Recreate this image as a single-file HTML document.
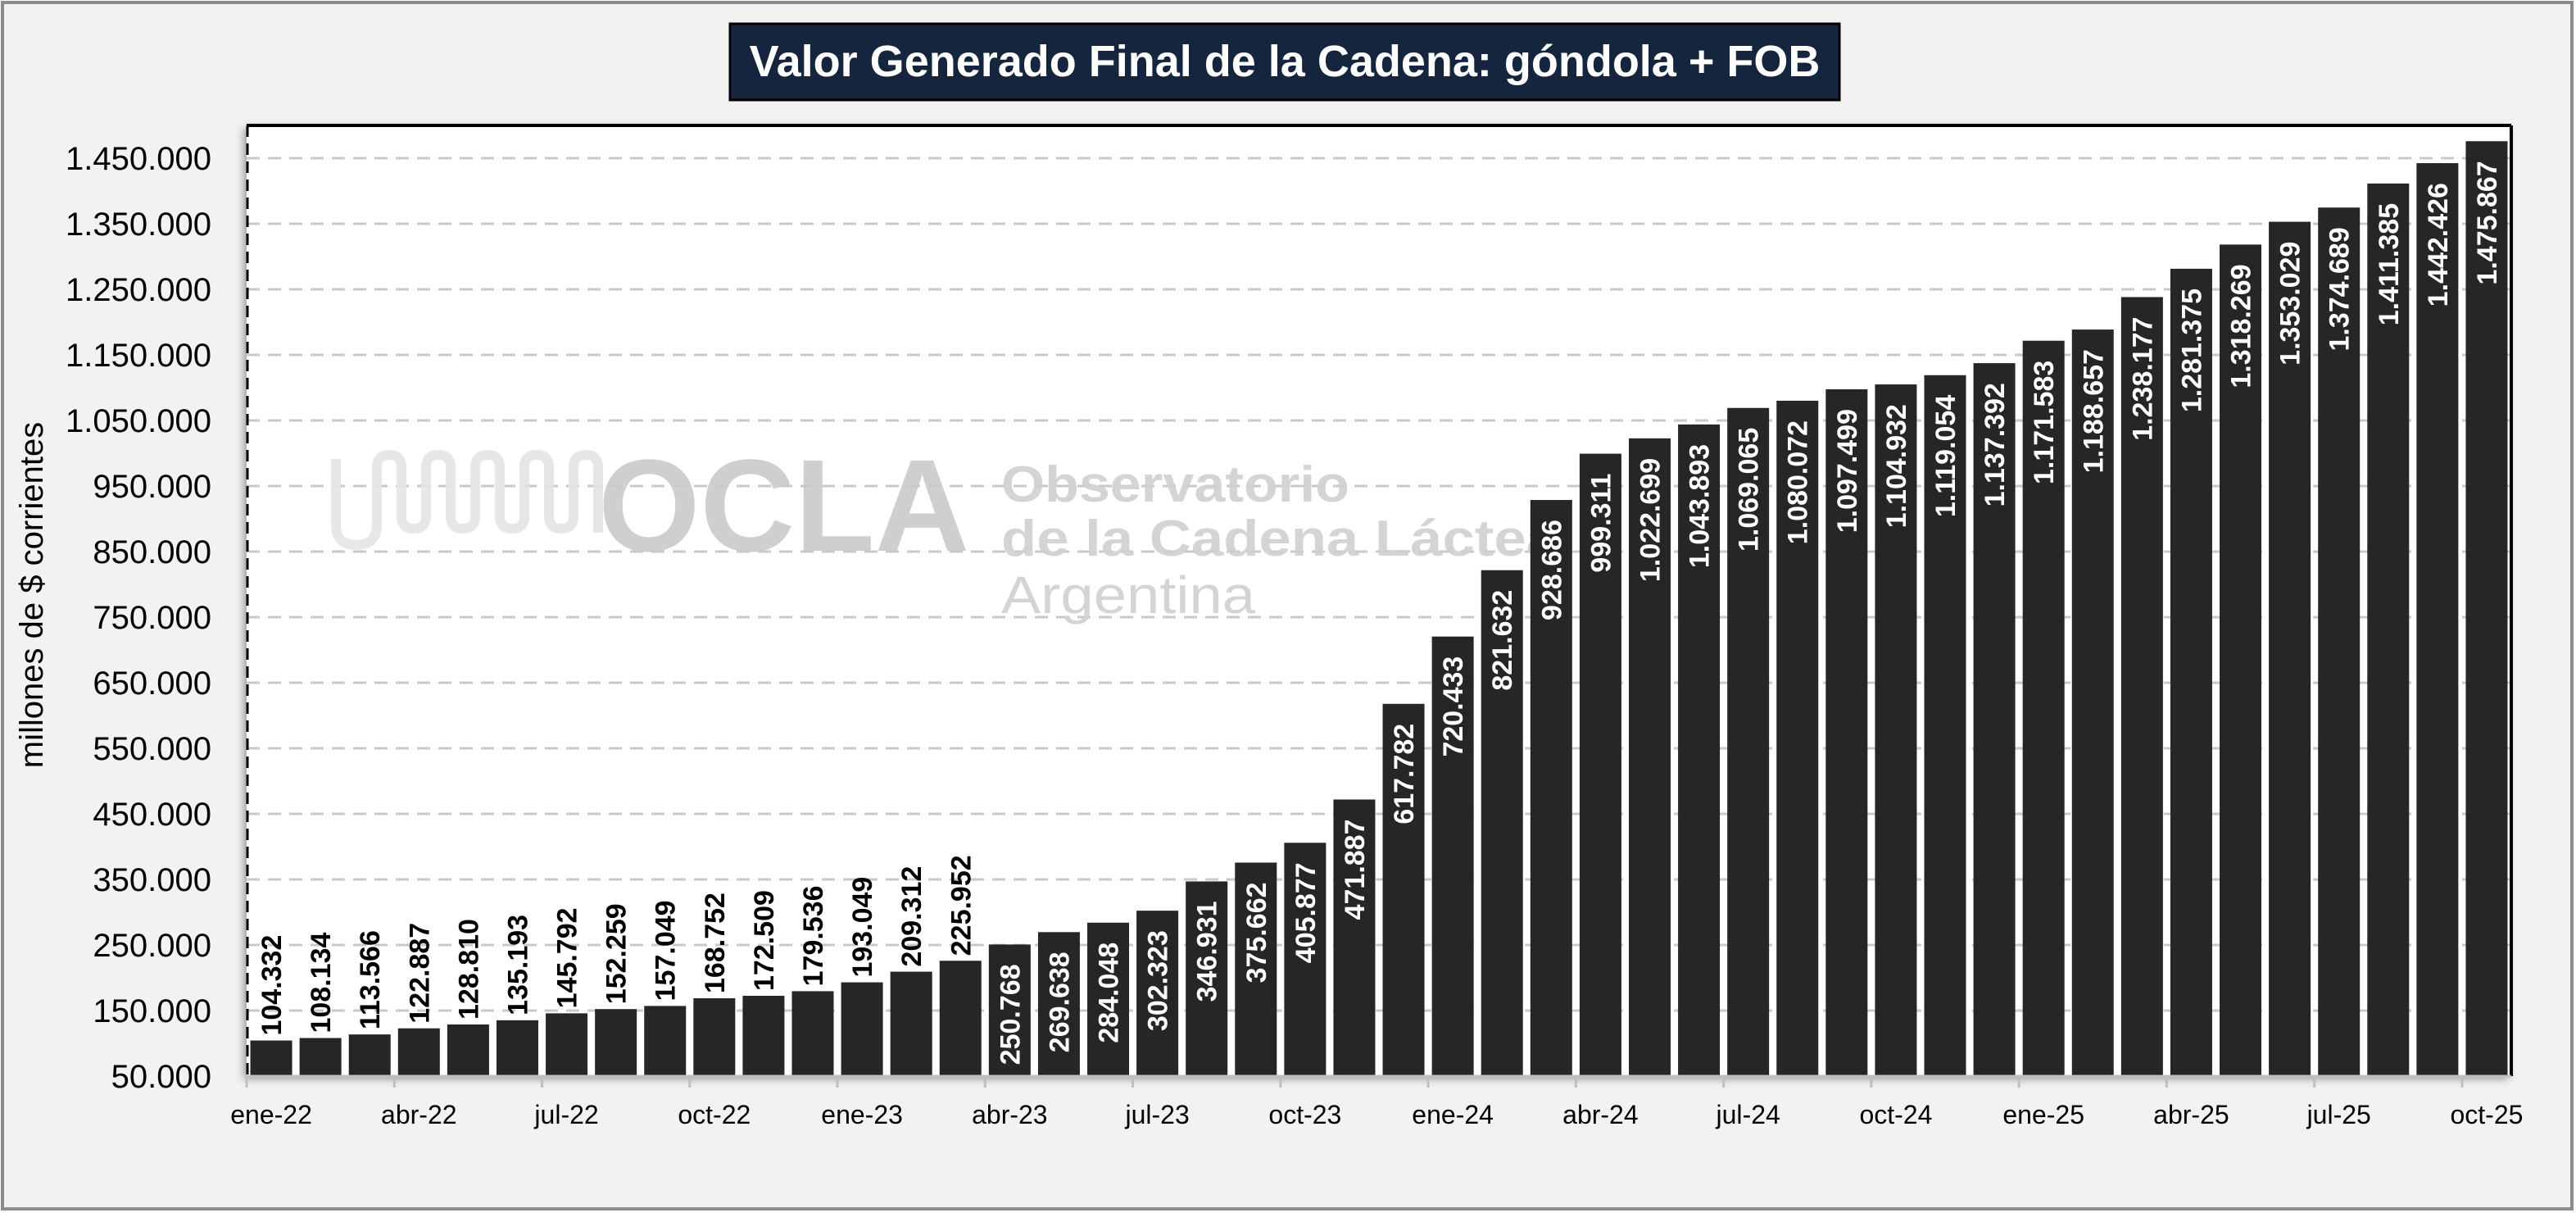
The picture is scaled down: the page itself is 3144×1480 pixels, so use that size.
<!DOCTYPE html>
<html><head><meta charset="utf-8"><style>
html,body{margin:0;padding:0;background:#fff}
svg{display:block;font-family:"Liberation Sans",sans-serif}
</style></head><body>
<svg id="chart" width="3144" height="1480" viewBox="0 0 3144 1480" xmlns="http://www.w3.org/2000/svg">
<defs><filter id="sh" x="-5%" y="-5%" width="110%" height="110%"><feDropShadow dx="-4" dy="4" stdDeviation="5" flood-color="#000" flood-opacity="0.35"/></filter></defs>
<rect x="3" y="3" width="3136" height="1472" fill="#f2f2f2" stroke="#8c8c8c" stroke-width="4"/>
<g>
<rect x="891" y="29" width="1354" height="93" fill="#14253d" stroke="#000" stroke-width="3"/>
<text x="1568" y="93" text-anchor="middle" fill="#fff" font-size="54" font-weight="bold">Valor Generado Final de la Cadena: góndola + FOB</text>
</g>
<rect x="301" y="153" width="2764" height="1160" fill="#fff" filter="url(#sh)"/>
<g id="grid"></g>
<g opacity="0.9">
<path d="M410 560 v80 q0 25 25 25 t25 -25 v-70 q0 -15 15 -15 t15 15 v60 q0 15 15 15 t15 -15 v-60 q0 -15 15 -15 t15 15 v60 q0 15 15 15 t15 -15 v-60 q0 -15 15 -15 t15 15 v60 q0 15 15 15 t15 -15 v-60 q0 -15 15 -15 t15 15 v60 q0 15 15 15 t15 -15 v-60 q0 -15 15 -15 t15 15 v80" fill="none" stroke="#e4e4e4" stroke-width="12"/>
<text x="730" y="672" font-size="160" font-weight="bold" fill="#cacaca">OCLA</text>
<text x="1222" y="612" font-size="62" font-weight="bold" fill="#d0d0d0" textLength="425" lengthAdjust="spacingAndGlyphs">Observatorio</text>
<text x="1222" y="678" font-size="62" font-weight="bold" fill="#d0d0d0" textLength="680" lengthAdjust="spacingAndGlyphs">de la Cadena Láctea</text>
<text x="1222" y="748" font-size="64" fill="#d0d0d0" textLength="310" lengthAdjust="spacingAndGlyphs">Argentina</text>
</g>
<g id="bars"></g>
<g id="labels"></g>
<line x1="301" y1="153" x2="3065" y2="153" stroke="#000" stroke-width="4"/>
<line x1="3065" y1="153" x2="3065" y2="1313" stroke="#000" stroke-width="4"/>
<line x1="302" y1="153" x2="302" y2="1313" stroke="#000" stroke-width="3" stroke-dasharray="14 8"/>
<line x1="301" y1="1313" x2="3065" y2="1313" stroke="#bfbfbf" stroke-width="3"/>
<g id="yticks"></g>
<g id="xticks"></g>
<text transform="translate(52,726) rotate(-90)" text-anchor="middle" font-size="40" fill="#000">millones de $ corrientes</text>
</svg>
<script>
const categories = ["ene-22","feb-22","mar-22","abr-22","may-22","jun-22","jul-22","ago-22","sep-22","oct-22","nov-22","dic-22","ene-23","feb-23","mar-23","abr-23","may-23","jun-23","jul-23","ago-23","sep-23","oct-23","nov-23","dic-23","ene-24","feb-24","mar-24","abr-24","may-24","jun-24","jul-24","ago-24","sep-24","oct-24","nov-24","dic-24","ene-25","feb-25","mar-25","abr-25","may-25","jun-25","jul-25","ago-25","sep-25","oct-25"];
const values = [104332,108134,113566,122887,128810,135193,145792,152259,157049,168752,172509,179536,193049,209312,225952,250768,269638,284048,302323,346931,375662,405877,471887,617782,720433,821632,928686,999311,1022699,1043893,1069065,1080072,1097499,1104932,1119054,1137392,1171583,1188657,1238177,1281375,1318269,1353029,1374689,1411385,1442426,1475867];
const yTicks = [50000,150000,250000,350000,450000,550000,650000,750000,850000,950000,1050000,1150000,1250000,1350000,1450000];
const yMin = 50000, yMax = 1500000;
const X0 = 301, X1 = 3065, Y0 = 1313, Y1 = 153;
const NS = "http://www.w3.org/2000/svg";
const slot = (X1 - X0) / categories.length;
function xPos(i){ return X0 + i * slot; }
function yPos(v){ return Y0 - (v - yMin) / (yMax - yMin) * (Y0 - Y1); }
function fmt(v){ return String(v).replace(/\B(?=(\d{3})+(?!\d))/g, "."); }
function mk(tag, attrs, parent){ const e = document.createElementNS(NS, tag); for (const k in attrs) e.setAttribute(k, attrs[k]); parent.appendChild(e); return e; }
const grid = document.getElementById("grid"), yt = document.getElementById("yticks");
yTicks.forEach(t => {
  const y = yPos(t);
  if (t > yMin) {
    const l = mk("line", {x1: X0, x2: X1, y1: y, y2: y, stroke: "#c8c8c8", "stroke-width": 3, "stroke-dasharray": "16 10"}, grid);
    
    
  }
  const tx = mk("text", {x: 258, y: y + 14, "text-anchor": "end", "font-size": 40, fill: "#000"}, yt);
  
  
  tx.textContent = fmt(t);
});
const bars = document.getElementById("bars"), labels = document.getElementById("labels"), xt = document.getElementById("xticks");
const bw = 51;
values.forEach((v, i) => {
  const x = xPos(i) + (slot - bw) / 2, y = yPos(v);
  const r = mk("rect", {x: x, y: y, width: bw, height: Y0 - y, fill: "#262626"}, bars);
  
  
  const cx = x + bw / 2 + 12;
  const inside = v > 240000;
  const ty = inside ? y + 24 : y - 6;
  const t = mk("text", {transform: "translate(" + cx + "," + ty + ") rotate(-90)", "text-anchor": inside ? "end" : "start", "font-size": 34, "font-weight": "bold", fill: inside ? "#fff" : "#000"}, labels);
  
  
  t.textContent = fmt(v);
  if (i % 3 === 0) {
    const tk = mk("line", {x1: xPos(i), x2: xPos(i), y1: Y0, y2: Y0 + 14, stroke: "#bfbfbf", "stroke-width": 3}, xt);
    
    
    const lb = mk("text", {x: xPos(i) + slot / 2, y: Y0 + 58, "text-anchor": "middle", "font-size": 32, fill: "#000"}, xt);
    
    
    lb.textContent = categories[i];
  }
});
</script>
</body></html>
